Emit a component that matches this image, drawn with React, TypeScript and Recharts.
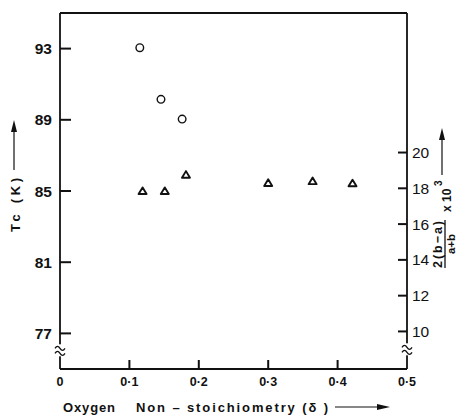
import { ReferenceDot, ReferenceLine, Scatter, ScatterChart, XAxis, YAxis } from 'recharts'

// Tc (K) against oxygen non-stoichiometry
const tcDelta = [0.115, 0.1455, 0.176]
const tcValues = [93.05, 90.15, 89.04]

// 2(b-a)/(a+b) x 10^3 against oxygen non-stoichiometry
const ratioDelta = [0.119, 0.151, 0.1815, 0.3, 0.364, 0.4215]
const ratioValues = [17.85, 17.85, 18.76, 18.3, 18.4, 18.28]

const deltaTicks = [0, 0.1, 0.2, 0.3, 0.4, 0.5]
const deltaTickLabels = ['0', '0·1', '0·2', '0·3', '0·4', '0·5']
const tcTicks = [77, 81, 85, 89, 93]
const ratioTicks = [10, 12, 14, 16, 18, 20]

const tcDomain = [75, 95]
const ratioDomain = [7.9, 27.8]
const deltaDomain = [0, 0.5]

const tcPoints = tcDelta.map((x, i) => ({ x, y: tcValues[i] }))
const ratioPoints = ratioDelta.map((x, i) => ({ x, y: ratioValues[i] }))

// inward tick marks sit on the axes, so they are placed through the same scales
const bottomTickMarks = deltaTicks.slice(1, -1).map((x) => ({ x, y: tcDomain[0] }))
const leftTickMarks = tcTicks.map((y) => ({ x: deltaDomain[0], y }))
const rightTickMarks = ratioTicks.map((y) => ({ x: deltaDomain[1], y }))

const INK = '#111'
const FONT = '"Liberation Sans", Arial, sans-serif'
const AXIS = { stroke: INK, strokeWidth: 1.8 }

function CircleMark({ cx, cy }: { cx?: number; cy?: number }) {
  return <circle cx={cx} cy={cy} r={3.8} fill="#fff" stroke={INK} strokeWidth={1.4} />
}

function TriangleMark({ cx = 0, cy = 0 }: { cx?: number; cy?: number }) {
  return (
    <path
      d={`M${cx},${cy - 3.6} L${cx + 4},${cy + 3} L${cx - 4},${cy + 3} Z`}
      fill="#fff"
      stroke={INK}
      strokeWidth={1.9}
      strokeLinejoin="round"
    />
  )
}

function AxisBreak({ cx = 0, cy = 0 }: { cx?: number; cy?: number }) {
  return (
    <g>
      <rect x={cx - 2} y={cy - 6} width={4} height={12} fill="#fff" />
      <path d={`M${cx - 5},${cy - 2} q2.5,-4 5,0 t5,0`} fill="none" stroke={INK} strokeWidth={1.3} />
      <path d={`M${cx - 5},${cy + 3} q2.5,-4 5,0 t5,0`} fill="none" stroke={INK} strokeWidth={1.3} />
    </g>
  )
}

function UpTick({ cx = 0, cy = 0 }: { cx?: number; cy?: number }) {
  return <path d={`M${cx},${cy} V${cy - 9}`} fill="none" stroke={INK} strokeWidth={2} />
}
function RightwardTick({ cx = 0, cy = 0 }: { cx?: number; cy?: number }) {
  return <path d={`M${cx},${cy} H${cx + 11}`} fill="none" stroke={INK} strokeWidth={2} />
}
function LeftwardTick({ cx = 0, cy = 0 }: { cx?: number; cy?: number }) {
  return <path d={`M${cx - 9},${cy} H${cx}`} fill="none" stroke={INK} strokeWidth={2} />
}

function BottomTick({ x = 0, y = 0, index = 0 }: { x?: number; y?: number; index?: number }) {
  return (
    <text x={x} y={y + 13} textAnchor="middle" fontFamily={FONT} fontSize={12.5} fontWeight={700} fill={INK}>
      {deltaTickLabels[index]}
    </text>
  )
}

function LeftTick({ x = 0, y = 0, payload }: { x?: number; y?: number; payload?: { value: number } }) {
  return (
    <text x={x} y={y + 5.5} textAnchor="end" fontFamily={FONT} fontSize={15.5} fontWeight={700} fill={INK}>
      {payload?.value}
    </text>
  )
}

function RightTick({ x = 0, y = 0, payload }: { x?: number; y?: number; payload?: { value: number } }) {
  return (
    <text x={x} y={y + 5.5} textAnchor="start" fontFamily={FONT} fontSize={15.5} fill={INK}>
      {payload?.value}
    </text>
  )
}

type Box = { x: number; y: number; width: number; height: number }

function LeftTitle({ viewBox }: { viewBox?: Box }) {
  if (!viewBox) return null
  const ox = viewBox.x + 15
  const oy = viewBox.y + viewBox.height - 137
  return (
    <g transform={`translate(${ox},${oy}) rotate(-90)`}>
      <text x={0} y={5} fontFamily={FONT} fontSize={13} fontWeight={700} fill={INK} textLength={54}>
        Tc (K)
      </text>
      <line x1={62} y1={-1} x2={102} y2={-1} stroke={INK} strokeWidth={1.2} />
      <path d="M112,-1 L100,-4 L100,2 Z" fill={INK} />
    </g>
  )
}

function RightTitle({ viewBox }: { viewBox?: Box }) {
  if (!viewBox) return null
  const ox = viewBox.x + 38
  const oy = viewBox.y + viewBox.height - 101
  return (
    <g transform={`translate(${ox},${oy}) rotate(-90)`} fontFamily={FONT} fill={INK}>
      <text x={0} y={-3} fontSize={12.5} fontWeight={700} textLength={47}>
        2(b−a)
      </text>
      <line x1={0} y1={0} x2={48} y2={0} stroke={INK} strokeWidth={1.3} />
      <text x={24} y={10} fontSize={11.5} fontWeight={700} textAnchor="middle">
        a+b
      </text>
      <text x={56} y={6} fontSize={12} fontWeight={700}>
        x 10
      </text>
      <text x={82} y={-3} fontSize={10} fontWeight={700}>
        3
      </text>
      <line x1={93} y1={-3} x2={130} y2={-3} stroke={INK} strokeWidth={1.2} />
      <path d="M140,-3 L128,-6 L128,0 Z" fill={INK} />
    </g>
  )
}

function BottomTitle({ viewBox }: { viewBox?: Box }) {
  if (!viewBox) return null
  const ox = viewBox.x + 3
  const oy = viewBox.y + 43
  return (
    <g fontFamily={FONT} fill={INK} fontSize={13} fontWeight={700}>
      <text x={ox} y={oy} textLength={52}>
        Oxygen
      </text>
      <text x={ox + 73} y={oy} textLength={192}>
        Non – stoichiometry (δ )
      </text>
      <line x1={ox + 272} y1={oy - 5} x2={ox + 316} y2={oy - 5} stroke={INK} strokeWidth={1.2} />
      <path d={`M${ox + 327},${oy - 5} L${ox + 314},${oy - 8} L${ox + 314},${oy - 2} Z`} fill={INK} />
    </g>
  )
}

export default function App() {
  return (
    <div style={{ width: 459, height: 418, background: '#fff' }}>
      <style>{'body{margin:0}'}</style>
      <ScatterChart width={459} height={418} margin={{ top: 13, right: 0, bottom: 0, left: 0 }}>
        <XAxis
          type="number"
          dataKey="x"
          domain={deltaDomain}
          ticks={deltaTicks}
          interval={0}
          height={49}
          tickSize={0}
          tickMargin={4}
          tickLine={false}
          tick={<BottomTick />}
          axisLine={AXIS}
          label={{ content: (p: { viewBox?: Box }) => <BottomTitle viewBox={p.viewBox} /> }}
        />
        <YAxis
          yAxisId="left"
          type="number"
          dataKey="y"
          domain={tcDomain}
          ticks={tcTicks}
          interval={0}
          width={60}
          tickSize={0}
          tickMargin={8}
          tickLine={false}
          tick={<LeftTick />}
          axisLine={AXIS}
          label={{ content: (p: { viewBox?: Box }) => <LeftTitle viewBox={p.viewBox} /> }}
        />
        <YAxis
          yAxisId="right"
          orientation="right"
          type="number"
          dataKey="y"
          domain={ratioDomain}
          ticks={ratioTicks}
          interval={0}
          width={52}
          tickSize={0}
          tickMargin={5}
          tickLine={false}
          tick={<RightTick />}
          axisLine={AXIS}
          label={{ content: (p: { viewBox?: Box }) => <RightTitle viewBox={p.viewBox} /> }}
        />
        <ReferenceLine yAxisId="left" y={tcDomain[1]} stroke={INK} strokeWidth={1.8} />
        <ReferenceDot yAxisId="left" x={deltaDomain[0]} y={76.05} shape={<AxisBreak />} />
        <ReferenceDot yAxisId="right" x={deltaDomain[1]} y={9.0} shape={<AxisBreak />} />
        <Scatter yAxisId="left" data={bottomTickMarks} shape={<UpTick />} isAnimationActive={false} />
        <Scatter yAxisId="left" data={leftTickMarks} shape={<RightwardTick />} isAnimationActive={false} />
        <Scatter yAxisId="right" data={rightTickMarks} shape={<LeftwardTick />} isAnimationActive={false} />
        <Scatter yAxisId="left" data={tcPoints} shape={<CircleMark />} isAnimationActive={false} />
        <Scatter yAxisId="right" data={ratioPoints} shape={<TriangleMark />} isAnimationActive={false} />
      </ScatterChart>
    </div>
  )
}
